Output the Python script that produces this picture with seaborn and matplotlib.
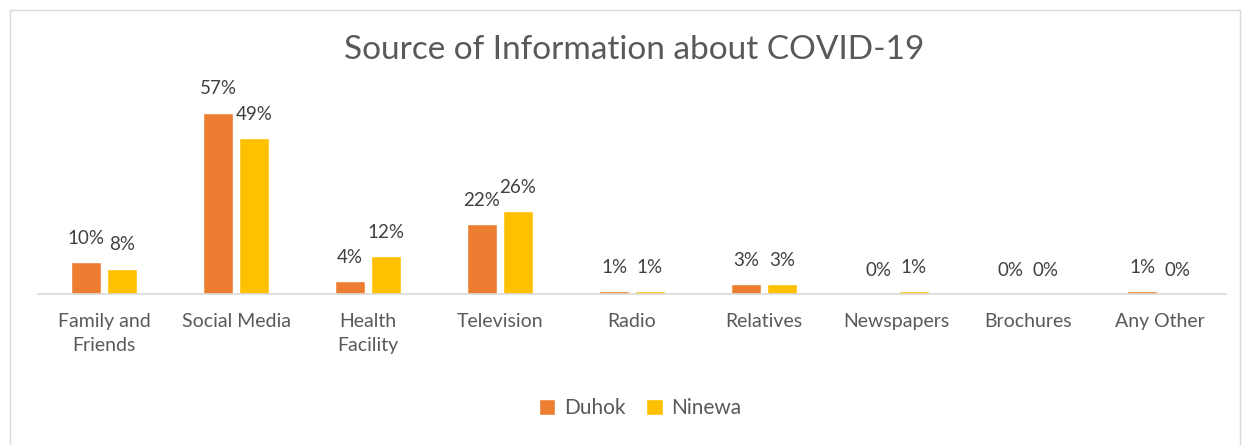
import matplotlib.pyplot as plt
import seaborn as sns
import pandas as pd
from matplotlib.patches import Rectangle

categories = ["Family and\nFriends", "Social Media", "Health\nFacility", "Television",
              "Radio", "Relatives", "Newspapers", "Brochures", "Any Other"]
duhok = [10, 57, 4, 22, 1, 3, 0, 0, 1]
ninewa = [8, 49, 12, 26, 1, 3, 1, 0, 0]
regions = ["Duhok", "Ninewa"]
colors = ["#ED7D31", "#FFC000"]

df = pd.DataFrame({
    "category": categories * 2,
    "region": ["Duhok"] * len(categories) + ["Ninewa"] * len(categories),
    "value": duhok + ninewa,
})

sns.set_style("white")
plt.rcParams['font.family'] = ['Lato', 'DejaVu Sans']

fig = plt.figure(figsize=(12.49, 4.45), dpi=100)
ax = fig.add_axes([38 / 1249, 151 / 445, 1188 / 1249, 191 / 445])

sns.barplot(data=df, x="category", y="value", hue="region", hue_order=regions,
            palette=colors, width=0.545, gap=0.167, ax=ax, legend=True,
            saturation=1)

for cont in ax.containers:
    ax.bar_label(cont, labels=[f"{v:.0f}%" for v in cont.datavalues],
                 padding=11, fontsize=13.5, color="#404040", clip_on=False)

ax.set_ylim(0, 60)
ax.set_xlim(-0.5, len(categories) - 0.5)
ax.set_xlabel("")
ax.set_ylabel("")
ax.set_yticks([])
for s in ["top", "left", "right"]:
    ax.spines[s].set_visible(False)
ax.spines["bottom"].set_color("#D9D9D9")
ax.spines["bottom"].set_linewidth(1.2)
ax.tick_params(axis="x", length=0, pad=14, labelsize=14, labelcolor="#595959")
for lbl in ax.get_xticklabels():
    lbl.set_linespacing(1.45)

fig.suptitle("Source of Information about COVID-19", x=0.508, y=1 - 50 / 445,
             va="center", fontsize=24, color="#595959")

ax.legend(loc="center", bbox_to_anchor=(640 / 1249, 1 - 408 / 445),
          bbox_transform=fig.transFigure, ncol=2, frameon=False,
          fontsize=15, labelcolor="#595959", handlelength=0.8, handleheight=0.8,
          handletextpad=0.4, columnspacing=1.0)

fig.patches.append(Rectangle((10 / 1249, -0.01), 1230 / 1249, 1 - 10 / 445 + 0.01,
                             transform=fig.transFigure, fill=False,
                             edgecolor="#D9D9D9", linewidth=1))

fig.savefig("out.png", dpi=100)
